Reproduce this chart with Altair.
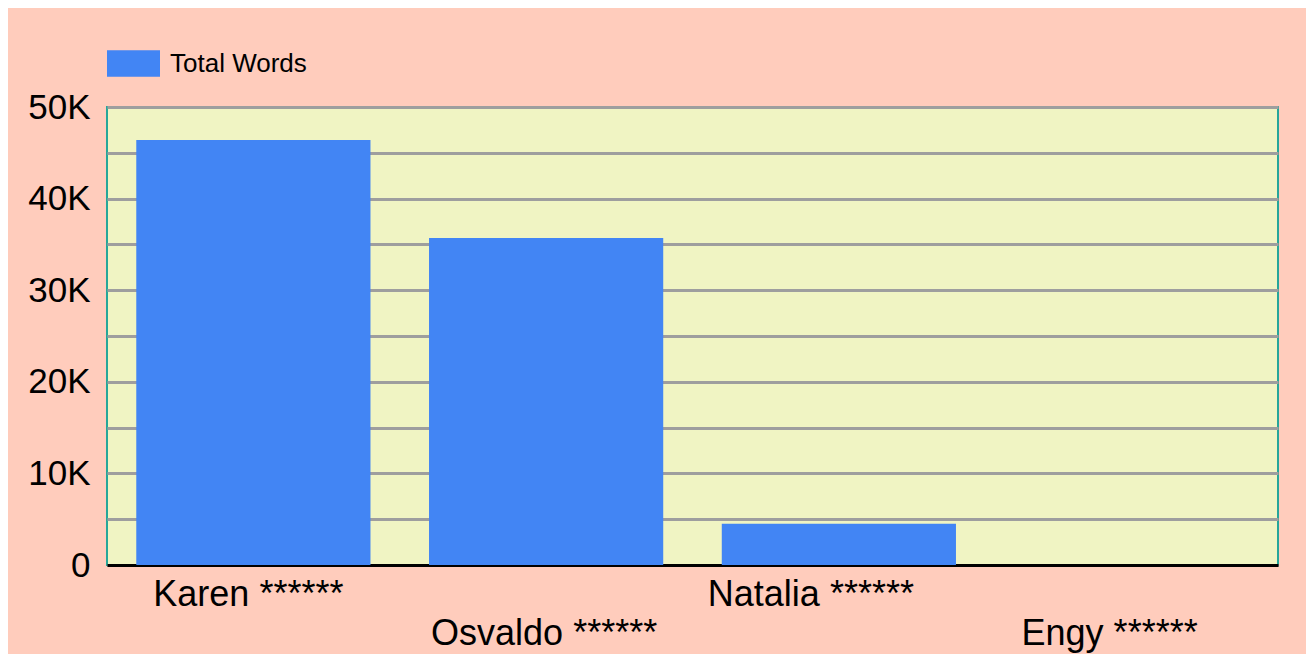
import json
import altair as alt
import pandas as pd

names = ["Karen ******", "Osvaldo ******", "Natalia ******", "Engy ******"]
total_words = [46400, 35700, 4500, 0]
series = ["Total Words"]
y_ticks = [0, 5000, 10000, 15000, 20000, 25000, 30000, 35000, 40000, 45000, 50000]

df = pd.DataFrame({"name": names, "words": total_words, "series": series * len(names)})

# horizontal nudge of each category label (style only)
LABEL_NUDGE = [-5, -2, -28, -22]

odd = json.dumps(names[1::2])
x_label_expr = f"indexof({odd}, datum.value) >= 0 ? ['', datum.label] : datum.label"
y_label_expr = "datum.value % 10000 != 0 ? '' : (datum.value == 0 ? '0' : (datum.value / 1000) + 'K')"
label_offset = {
    "condition": [
        {"test": f"datum.value == {json.dumps(n)}", "value": d}
        for n, d in zip(names, LABEL_NUDGE)
    ],
    "value": 0,
}

FONT = "Liberation Sans"

chart = alt.Chart(df).mark_bar().encode(
    x=alt.X(
        "name:N",
        sort=names,
        scale=alt.Scale(paddingInner=0.2, paddingOuter=0.1),
        axis=alt.Axis(
            title=None,
            labelAngle=0,
            labelFontSize=36,
            labelFont=FONT,
            labelColor="#000000",
            labelPadding=12,
            labelLineHeight=39,
            labelExpr=x_label_expr,
            labelLimit=0,
            labelOffset=label_offset,
            ticks=False,
            domainColor="#000000",
            domainWidth=3,
            grid=False,
            labelOverlap=False,
        ),
    ),
    y=alt.Y(
        "words:Q",
        scale=alt.Scale(domain=[0, 50000], nice=False),
        axis=alt.Axis(
            title=None,
            values=y_ticks,
            labelExpr=y_label_expr,
            labelFontSize=35,
            labelFont=FONT,
            labelColor="#000000",
            labelPadding=17,
            ticks=False,
            domain=False,
            grid=True,
            gridColor="#9E9E9E",
            gridWidth=3,
            labelOverlap=False,
        ),
    ),
    color=alt.Color(
        "series:N",
        scale=alt.Scale(domain=series, range=["#4285F4"]),
        legend=alt.Legend(
            title=None,
            orient="none",
            legendX=0,
            legendY=-70,
            padding=0,
            symbolType="M-1,-0.5H1V0.5H-1Z",
            symbolSize=2809,
            symbolStrokeWidth=0,
            symbolOpacity=1,
            labelFontSize=26,
            labelFont=FONT,
            labelColor="#000000",
            labelOffset=10,
        ),
    ),
).properties(
    width=1171,
    height=458,
    background="#FFCCBC",
    padding={"left": 99, "top": 99, "right": 28, "bottom": 89},
    autosize=alt.AutoSizeParams(type="none"),
).configure_view(
    fill="#F0F4C3",
    stroke="#26A69A",
    strokeWidth=2,
)

chart.save("out.html", embed_options={"renderer": "svg", "actions": False})
